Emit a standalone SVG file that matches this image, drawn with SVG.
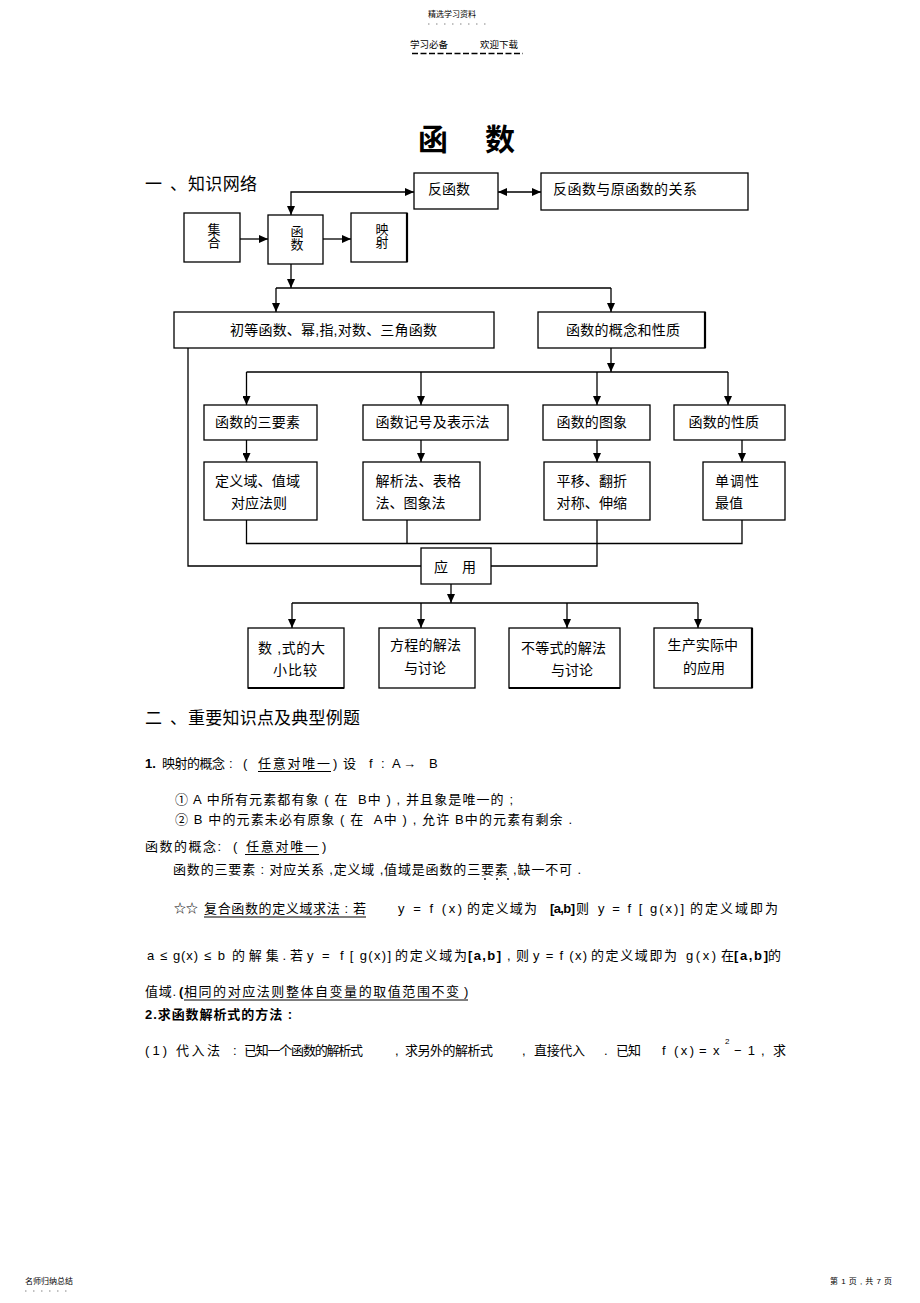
<svg xmlns="http://www.w3.org/2000/svg" width="920" height="1303" viewBox="0 0 920 1303">
<style>
.t{font-family:"Liberation Sans","Noto Sans CJK SC",sans-serif;fill:#000;white-space:pre}
.s14{font-size:14px}
.s13{font-size:13px}
.b{font-weight:bold}
.bx{fill:#fff;stroke:#000;stroke-width:1.3}
.ln{fill:none;stroke:#000;stroke-width:1.3}
.ar{marker-end:url(#ah)}
.ul{stroke:#000;stroke-width:1.2}
</style>
<defs>
<marker id="ah" markerUnits="userSpaceOnUse" markerWidth="9" markerHeight="8" refX="9" refY="4" orient="auto-start-reverse"><path d="M0,0 L9,4 L0,8 z" fill="#000"/></marker>
</defs>
<rect width="920" height="1303" fill="#fff"/>

<!-- header -->
<g id="header">
<text class="t" x="428" y="17" font-size="8" fill="#333">精选学习资料</text>
<line x1="428" y1="24" x2="492" y2="24" stroke="#666" stroke-width="0.8" stroke-dasharray="1.5 6.5"/>
<text class="t" x="410" y="48" font-size="9.5">学习必备</text>
<text class="t" x="480" y="48" font-size="9.5">欢迎下载</text>
<line x1="412" y1="53.5" x2="523" y2="53.5" stroke="#000" stroke-width="1.5" stroke-dasharray="6 2.5"/>
</g>

<g id="title">
<text class="t b" x="418" y="150" font-size="30">函</text>
<text class="t b" x="485" y="150" font-size="30">数</text>
</g>

<g id="heading1">
<text class="t" x="145" y="190" font-size="17">一</text>
<text class="t" x="170" y="190" font-size="17">、</text>
<text class="t" x="188" y="190" font-size="17" textLength="69">知识网络</text>
</g>

<!-- connectors -->
<g id="connectors">
<path class="ln" d="M291,215 L291,192 L414,192" marker-start="url(#ah)" marker-end="url(#ah)"/>
<path class="ln" d="M498,192 L541,192" marker-start="url(#ah)" marker-end="url(#ah)"/>
<path class="ln ar" d="M240,239 L268,239"/>
<path class="ln ar" d="M323,239 L351,239"/>
<path class="ln ar" d="M291,264 L291,288"/>
<path class="ln" d="M276,288 L611,288"/>
<path class="ln ar" d="M276,288 L276,312"/>
<path class="ln ar" d="M611,288 L611,312"/>
<path class="ln ar" d="M611,348 L611,372"/>
<path class="ln" d="M246.5,372 L728,372"/>
<path class="ln ar" d="M246.5,372 L246.5,405"/>
<path class="ln ar" d="M421,372 L421,405"/>
<path class="ln ar" d="M597,372 L597,405"/>
<path class="ln ar" d="M728,372 L728,405"/>
<path class="ln ar" d="M246.5,440 L246.5,462"/>
<path class="ln ar" d="M421,440 L421,462"/>
<path class="ln ar" d="M597,440 L597,462"/>
<path class="ln ar" d="M742,440 L742,462"/>
<path class="ln" d="M246.5,520 L246.5,543.5 L742,543.5 L742,520"/>
<path class="ln" d="M407,520 L407,543.5"/>
<path class="ln" d="M597,520 L597,566 L491,566"/>
<path class="ln" d="M188,348 L188,566 L421,566"/>
<path class="ln ar" d="M451,584 L451,603"/>
<path class="ln" d="M292,603 L698,603"/>
<path class="ln ar" d="M292,603 L292,628"/>
<path class="ln ar" d="M421,603 L421,628"/>
<path class="ln ar" d="M567,603 L567,628"/>
<path class="ln ar" d="M698,603 L698,628"/>
</g>

<!-- nodes -->
<g id="n_fanhanshu"><rect class="bx" x="414" y="173" width="84" height="36"/><text class="t s14" x="428" y="194">反函数</text></g>
<g id="n_guanxi"><rect class="bx" x="541" y="173" width="207" height="37"/><text class="t s14" x="553" y="194" textLength="144">反函数与原函数的关系</text></g>
<g id="n_jihe"><rect class="bx" x="184" y="213" width="56" height="49"/><text class="t s13" x="214" y="234" text-anchor="middle">集</text><text class="t s13" x="214" y="246.5" text-anchor="middle">合</text></g>
<g id="n_hanshu"><rect class="bx" x="268" y="215" width="55" height="49"/><text class="t s13" x="297" y="235.5" text-anchor="middle">函</text><text class="t s13" x="297" y="248.5" text-anchor="middle">数</text></g>
<g id="n_yingshe"><rect class="bx" x="351" y="213" width="56" height="49"/><line x1="407" y1="213" x2="407" y2="262" stroke="#000" stroke-width="2.2"/><text class="t s13" x="382" y="234" text-anchor="middle">映</text><text class="t s13" x="382" y="246.5" text-anchor="middle">射</text></g>
<g id="n_chudeng"><rect class="bx" x="174" y="312" width="320" height="36"/><text class="t s14" x="230" y="335" textLength="207">初等函数、幂,指,对数、三角函数</text></g>
<g id="n_gainian"><rect class="bx" x="538" y="312" width="167" height="36"/><line x1="705" y1="312" x2="705" y2="348" stroke="#000" stroke-width="2.2"/><text class="t s14" x="566" y="335" textLength="114">函数的概念和性质</text></g>

<g id="n_sanyaosu"><rect class="bx" x="204" y="405" width="113" height="35"/><text class="t s14" x="215" y="427" textLength="85">函数的三要素</text></g>
<g id="n_jihao"><rect class="bx" x="363" y="405" width="145" height="35"/><text class="t s14" x="375.5" y="427" textLength="114">函数记号及表示法</text></g>
<g id="n_tuxiang"><rect class="bx" x="543" y="405" width="107" height="35"/><text class="t s14" x="556.5" y="427" textLength="70.5">函数的图象</text></g>
<g id="n_xingzhi"><rect class="bx" x="674" y="405" width="111" height="35"/><text class="t s14" x="688.5" y="427" textLength="70.5">函数的性质</text></g>

<g id="n_dingyiyu"><rect class="bx" x="204" y="462" width="113" height="58"/><text class="t s14" x="215" y="486" textLength="85">定义域、值域</text><text class="t s14" x="231" y="508" textLength="56">对应法则</text></g>
<g id="n_jiexifa"><rect class="bx" x="363" y="462" width="117" height="58"/><text class="t s14" x="375.5" y="486" textLength="85.5">解析法、表格</text><text class="t s14" x="375.5" y="508" textLength="70">法、图象法</text></g>
<g id="n_pingyi"><rect class="bx" x="544" y="462" width="106" height="58"/><text class="t s14" x="556.5" y="486" textLength="70.5">平移、翻折</text><text class="t s14" x="556.5" y="508" textLength="70.5">对称、伸缩</text></g>
<g id="n_dandiao"><rect class="bx" x="703" y="462" width="82" height="58"/><text class="t s14" x="715" y="486" textLength="44">单调性</text><text class="t s14" x="715" y="508">最值</text></g>

<g id="n_yingyong"><rect class="bx" x="421" y="548" width="70" height="36"/><text class="t s14" x="434" y="572">应</text><text class="t s14" x="462" y="572">用</text></g>

<g id="n_bijiao"><rect class="bx" x="248" y="628" width="96" height="60"/><line x1="248" y1="688" x2="344" y2="688" stroke="#000" stroke-width="2.2"/><text class="t s14" x="258" y="653" textLength="67">数 ,式的大</text><text class="t s14" x="273" y="675" textLength="44">小比较</text></g>
<g id="n_fangcheng"><rect class="bx" x="379" y="628" width="96" height="60"/><text class="t s14" x="390" y="650" textLength="71">方程的解法</text><text class="t s14" x="404" y="673" textLength="42">与讨论</text></g>
<g id="n_budengshi"><rect class="bx" x="509" y="628" width="111" height="60"/><line x1="509" y1="688" x2="620" y2="688" stroke="#000" stroke-width="2.2"/><text class="t s14" x="521" y="653" textLength="85">不等式的解法</text><text class="t s14" x="551" y="675" textLength="42">与讨论</text></g>
<g id="n_shengchan"><rect class="bx" x="654" y="628" width="98" height="60"/><line x1="752" y1="628" x2="752" y2="688" stroke="#000" stroke-width="2.2"/><text class="t s14" x="667.5" y="650" textLength="70.5">生产实际中</text><text class="t s14" x="683" y="673" textLength="42">的应用</text></g>

<!-- body text -->
<g id="body">
<text class="t" x="145" y="724" font-size="17">二</text>
<text class="t" x="170" y="724" font-size="17">、</text>
<text class="t" x="188" y="724" font-size="17" textLength="172">重要知识点及典型例题</text>

<text class="t s13 b" x="145" y="768">1.</text>
<text class="t s13" x="162" y="768" textLength="63">映射的概念</text>
<text class="t s13" x="229" y="768">:</text>
<text class="t s13" x="243" y="768">(</text>
<text class="t s13" x="258" y="768" textLength="72">任意对唯一</text>
<line class="ul" x1="258" y1="771.5" x2="331" y2="771.5"/>
<text class="t s13" x="333" y="768">)</text>
<text class="t s13" x="343" y="768">设</text>
<text class="t s13" x="369" y="768">f</text>
<text class="t s13" x="381" y="768">:</text>
<text class="t s13" x="392" y="768">A</text>
<text class="t s13" x="403" y="768">→</text>
<text class="t s13" x="429" y="768">B</text>

<text class="t s13" x="175" y="804" textLength="338">① A 中所有元素都有象 ( 在  B中 ) , 并且象是唯一的 ;</text>
<text class="t s13" x="175" y="824" textLength="397">② B 中的元素未必有原象 ( 在  A中 ) , 允许 B中的元素有剩余 .</text>

<text class="t s13" x="145" y="851" textLength="76">函数的概念:</text>
<text class="t s13" x="233" y="851">(</text>
<text class="t s13" x="246" y="851" textLength="72">任意对唯一</text>
<line class="ul" x1="245" y1="854.5" x2="319" y2="854.5"/>
<text class="t s13" x="322" y="851">)</text>

<text class="t s13" x="173" y="874" textLength="408">函数的三要素 : 对应关系 ,定义域 ,值域是函数的三要素 ,缺一不可 .</text>
<circle cx="485" cy="879" r="0.9"/><circle cx="497" cy="879" r="0.9"/><circle cx="508" cy="879" r="0.9"/>

<text class="t" x="174" y="913" font-size="12">☆☆</text>
<text class="t s13" x="204" y="913" textLength="162">复合函数的定义域求法 : 若</text>
<line class="ul" x1="204" y1="917" x2="366" y2="917"/>
<text class="t s13" x="398" y="913" textLength="64">y = f (x)</text>
<text class="t s13" x="467" y="913" textLength="70">的定义域为</text>
<text class="t s13 b" x="550" y="913" textLength="25">[a,b]</text>
<text class="t s13" x="576" y="913">则</text>
<text class="t s13" x="598" y="913" textLength="86">y = f [ g(x)]</text>
<text class="t s13" x="690" y="913" textLength="88">的定义域即为</text>

<text class="t s13" x="147" y="960">a</text>
<text class="t s13" x="160" y="960">≤</text>
<text class="t s13" x="173" y="960" textLength="25">g(x)</text>
<text class="t s13" x="204" y="960" textLength="21">≤b</text>
<text class="t s13" x="232" y="960" textLength="71">的解集.若</text>
<text class="t s13" x="307" y="960">y</text>
<text class="t s13" x="322" y="960">=</text>
<text class="t s13" x="340" y="960" textLength="51">f [ g(x)]</text>
<text class="t s13" x="395" y="960" textLength="72">的定义域为</text>
<text class="t s13 b" x="468" y="960" textLength="33">[a,b]</text>
<text class="t s13" x="507" y="960" textLength="22">, 则</text>
<text class="t s13" x="533" y="960" textLength="54">y = f (x)</text>
<text class="t s13" x="591" y="960" textLength="86">的定义域即为</text>
<text class="t s13" x="686" y="960" textLength="30">g(x)</text>
<text class="t s13" x="721" y="960">在</text>
<text class="t s13 b" x="734" y="960" textLength="34">[a,b]</text>
<text class="t s13" x="768" y="960">的</text>

<text class="t s13" x="145" y="996" textLength="31">值域.</text>
<text class="t s13 b" x="179" y="996">(</text>
<text class="t s13" x="184" y="996" textLength="275">相同的对应法则整体自变量的取值范围不变</text>
<text class="t s13" x="464" y="996">)</text>
<line class="ul" x1="184" y1="1000" x2="468" y2="1000"/>

<text class="t s13 b" x="145" y="1019" textLength="147">2.求函数解析式的方法 :</text>

<text class="t s13" x="145" y="1055" textLength="22">(1)</text>
<text class="t s13" x="176" y="1055" textLength="44">代入法</text>
<text class="t s13" x="233" y="1055">:</text>
<text class="t s13" x="244" y="1055" textLength="119">已知一个函数的解析式</text>
<text class="t s13" x="395" y="1055">,</text>
<text class="t s13" x="405" y="1055" textLength="88">求另外的解析式</text>
<text class="t s13" x="522" y="1055">,</text>
<text class="t s13" x="534" y="1055" textLength="51">直接代入</text>
<text class="t s13" x="604" y="1055">.</text>
<text class="t s13" x="616" y="1055" textLength="25">已知</text>
<text class="t s13" x="662" y="1055">f</text>
<text class="t s13" x="674" y="1055" textLength="20">(x)</text>
<text class="t s13" x="699" y="1055">=</text>
<text class="t s13" x="713" y="1055">x</text>
<text class="t" x="725" y="1044" font-size="8">2</text>
<text class="t s13" x="734" y="1055" textLength="21">−1</text>
<text class="t s13" x="761" y="1055">,</text>
<text class="t s13" x="773" y="1055">求</text>
</g>

<g id="footer">
<text class="t" x="25" y="1284" font-size="8" fill="#333">名师归纳总结</text>
<line x1="25" y1="1291" x2="73" y2="1291" stroke="#666" stroke-width="0.8" stroke-dasharray="1.5 6.5"/>
<text class="t" x="830" y="1284" font-size="8" fill="#333" textLength="62">第 1 页 , 共 7 页</text>
</g>
</svg>
